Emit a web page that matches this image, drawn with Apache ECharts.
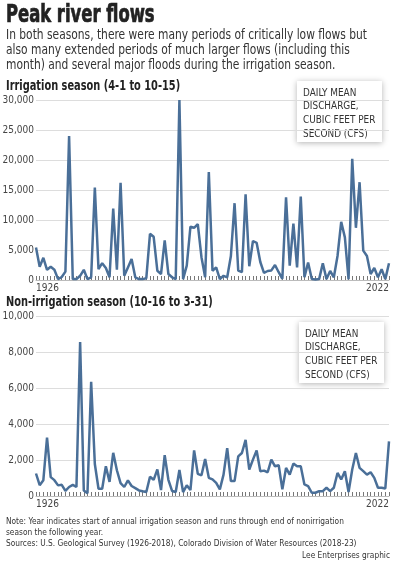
<!DOCTYPE html>
<html>
  <head>
    <title>Peak river flows</title>
    <meta charset="utf-8" />
    <script src="https://cdn.jsdelivr.net/npm/echarts@6/dist/echarts.min.js"></script>
    <style>
      body { margin: 0; background: #fff; }
      #main { width: 400px; height: 562px; }
    </style>
  </head>
  <body>
    <div id="main"></div>
    <script type="text/javascript">
    // years 1926..2022, one point per season
    var years = [];
    for (var y = 1926; y <= 2022; y++) years.push(String(y));

    // peak daily mean discharge, cfs
    var irrigationFlow = [
      5400, 2200, 3700, 1700, 2200, 1700, 150, 500, 1400, 24000,
      150, 150, 700, 1700, 150, 450, 15400, 1800, 2800, 2000,
      450, 11900, 1700, 16200, 700, 2100, 3500, 450, 150, 150,
      300, 7700, 7200, 1550, 1000, 6600, 1000, 450, 150, 30000,
      150, 2400, 8900, 8700, 9300, 3800, 450, 18000, 1550, 2100,
      150, 700, 450, 4000, 12800, 1550, 1300, 14300, 2300, 6500,
      6200, 3000, 1200, 1500, 1600, 2500, 1300, 200, 13800, 2400,
      9400, 2100, 13900, 450, 2900, 150, 100, 150, 2800, 150,
      1500, 450, 4000, 9700, 7100, 100, 20200, 8700, 16300, 4900,
      4000, 1000, 2000, 450, 1800, 150, 2800
    ];

    var nonIrrigationFlow = [
      1250, 600, 880, 3250, 1050, 880, 590, 620, 280, 500,
      620, 500, 8550, 300, 150, 6350, 1780, 400, 400, 1650,
      780, 2400, 1430, 720, 500, 870, 555, 440, 310, 260,
      220, 1070, 900, 1480, 330, 2270, 900, 280, 220, 1440,
      220, 590, 330, 2530, 1230, 1150, 2050, 1010, 920, 730,
      370, 1190, 2660, 830, 830, 2200, 2390, 3120, 1470, 2020,
      2530, 1380, 1410, 1320, 2020, 1650, 1710, 370, 1560, 1190,
      1800, 1650, 1650, 640, 550, 180, 180, 270, 270, 460,
      270, 460, 1280, 920, 1380, 220, 1470, 2390, 1560, 1380,
      1190, 1320, 1010, 460, 460, 420, 3030
    ];

    var FONT = '"DejaVu Sans Condensed", "DejaVu Sans", sans-serif';
    var LINE = '#4a6f98';
    var boxText = 'DAILY MEAN\nDISCHARGE,\nCUBIC FEET PER\nSECOND (CFS)';

    // text squeezed horizontally to get the narrow newspaper look
    function label(txt, x, y, size, weight, sx, extra) {
      var st = {
        text: txt, fontFamily: FONT, fontSize: size, fontWeight: weight,
        fill: '#222', verticalAlign: 'top', align: 'left'
      };
      for (var k in (extra || {})) st[k] = extra[k];
      return { type: 'text', x: x, y: y, scaleX: sx, style: st, silent: true };
    }

    function xAxisFor(gridIndex) {
      return {
        gridIndex: gridIndex,
        type: 'category',
        data: years,
        boundaryGap: false,
        axisLine: { show: true, lineStyle: { color: '#bbb' } },
        axisTick: { show: true, interval: 0, length: 4, inside: true, lineStyle: { color: '#777' } },
        axisLabel: {
          interval: function (i) { return i === 0 || i === years.length - 1; },
          fontFamily: FONT, fontSize: 10, color: '#444', margin: 3,
          alignMinLabel: 'left', alignMaxLabel: 'right'
        }
      };
    }

    function yAxisFor(gridIndex, max, interval) {
      return {
        gridIndex: gridIndex,
        type: 'value',
        min: 0, max: max, interval: interval,
        axisLine: { show: false },
        axisTick: { show: false },
        splitLine: { lineStyle: { color: '#ddd' } },
        axisLabel: {
          fontFamily: FONT, fontSize: 10, color: '#444', margin: 2,
          formatter: function (v) { return v.toLocaleString('en-US'); }
        }
      };
    }

    function legendBox(x, y) {
      return {
        type: 'group', x: x, y: y,
        children: [
          { type: 'rect', shape: { x: 0, y: 0, width: 85, height: 61 },
            style: { fill: '#fff', shadowBlur: 6, shadowColor: 'rgba(0,0,0,0.3)', shadowOffsetY: 1 } },
          label(boxText, 6, 5, 11, 'normal', 0.9, { lineHeight: 13.7, fill: '#333' })
        ]
      };
    }

    var myChart = echarts.init(document.getElementById('main'));

    var option = {
      backgroundColor: '#fff',
      animation: false,
      grid: [
        { left: 36, right: 11, top: 100, height: 180, outerBoundsMode: 'none' },
        { left: 36, right: 11, top: 316, height: 180, outerBoundsMode: 'none' }
      ],
      xAxis: [xAxisFor(0), xAxisFor(1)],
      yAxis: [yAxisFor(0, 30000, 5000), yAxisFor(1, 10000, 2000)],
      series: [
        { type: 'line', xAxisIndex: 0, yAxisIndex: 0, data: irrigationFlow,
          showSymbol: false, lineStyle: { color: LINE, width: 2.5 }, itemStyle: { color: LINE } },
        { type: 'line', xAxisIndex: 1, yAxisIndex: 1, data: nonIrrigationFlow,
          showSymbol: false, lineStyle: { color: LINE, width: 2.5 }, itemStyle: { color: LINE } }
      ],
      graphic: [
        label('Peak river flows', 6, 3, 25, 'bold', 0.73, { stroke: '#222', lineWidth: 0.7 }),
        label('In both seasons, there were many periods of critically low flows but\nalso many extended periods of much larger flows (including this\nmonth) and several major floods during the irrigation season.',
          6, 28, 13.5, 'normal', 0.88, { lineHeight: 15, fill: '#333' }),
        label('Irrigation season (4-1 to 10-15)', 6, 79, 14, 'bold', 0.78),
        label('Non-irrigation season (10-16 to 3-31)', 6, 295, 14, 'bold', 0.78),
        label('Note: Year indicates start of annual irrigation season and runs through end of nonirrigation\nseason the following year.\nSources: U.S. Geological Survey (1926-2018), Colorado Division of Water Resources (2018-23)',
          6, 516, 9.5, 'normal', 0.87, { lineHeight: 11, fill: '#333' }),
        label('Lee Enterprises graphic', 390, 551, 9.5, 'normal', 0.87, { align: 'right', fill: '#333' }),
        legendBox(297, 81),
        legendBox(299, 322)
      ]
    };

    myChart.setOption(option);
    </script>
  </body>
</html>
